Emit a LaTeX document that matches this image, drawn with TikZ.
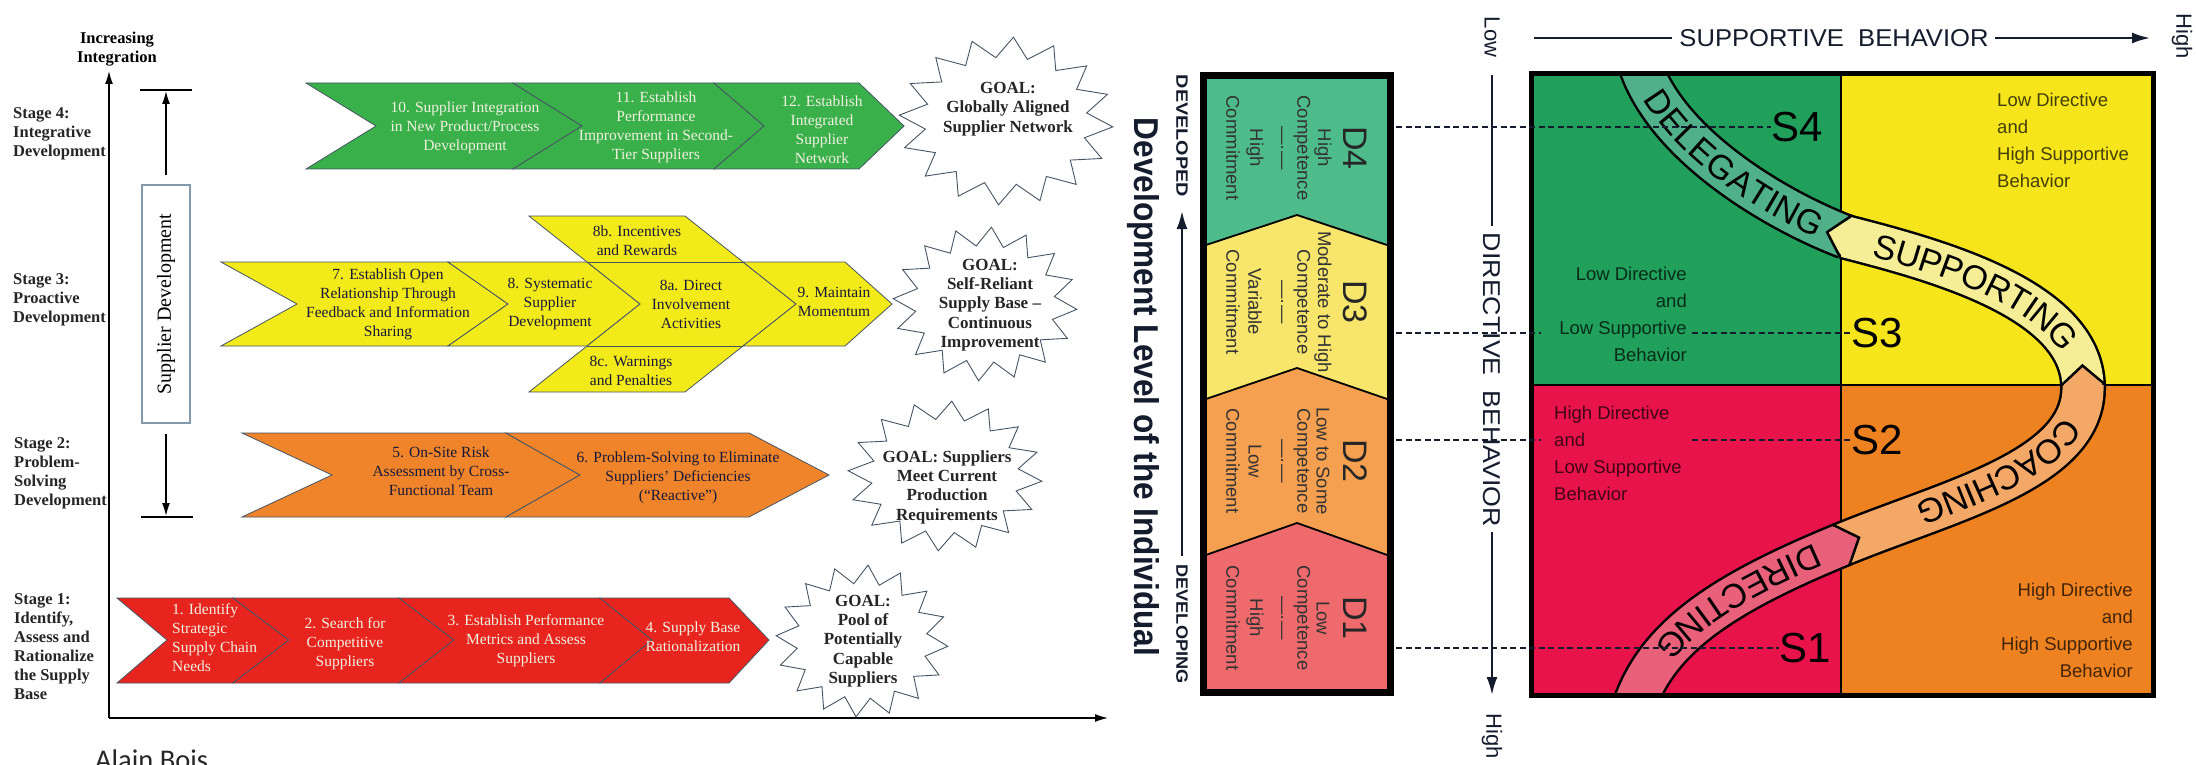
\documentclass[tikz,border=0pt]{standalone}
\usepackage{fontspec}
\usepackage{graphicx}
\setmainfont{Liberation Serif}
\newfontfamily\arialf{Liberation Sans}
\newfontfamily\calibf{Carlito}
\usetikzlibrary{arrows.meta,decorations.text,decorations.markings}
\newcommand\fsz[2]{\fontsize{#1}{#2}\selectfont}
\newcommand\bandfont{\arialf\fsz{34}{34}}
\definecolor{cgreen}{RGB}{58,176,74}
\definecolor{cyellow}{RGB}{243,234,26}
\definecolor{corange}{RGB}{240,132,42}
\definecolor{cred}{RGB}{232,36,30}
\definecolor{edgec}{RGB}{70,85,100}
\definecolor{boxc}{RGB}{130,155,175}
\definecolor{dkt}{RGB}{25,25,55}
\definecolor{lgt}{RGB}{240,240,225}
\definecolor{dfour}{RGB}{77,187,138}
\definecolor{dthree}{RGB}{247,230,107}
\definecolor{dtwo}{RGB}{245,160,80}
\definecolor{done}{RGB}{238,106,108}
\definecolor{qtl}{RGB}{32,160,90}
\definecolor{qtr}{RGB}{246,229,27}
\definecolor{qbl}{RGB}{232,19,75}
\definecolor{qbr}{RGB}{238,130,33}
\definecolor{bdel}{RGB}{79,176,138}
\definecolor{bsup}{RGB}{246,238,150}
\definecolor{bcoa}{RGB}{244,168,104}
\definecolor{bdir}{RGB}{232,96,122}
\definecolor{axc}{RGB}{20,28,45}
\newcommand\goalstar[4]{%
  \draw[draw=edgec, line width=0.9pt, fill=white]
    plot[samples=33, domain=0:32, variable=\k]
    ({#1+#3*(1-0.24*mod(round(\k),2))*cos(\k*11.25+4)},
     {#2+#4*(1-0.24*mod(round(\k),2))*sin(\k*11.25+4)}) -- cycle;}
\newcommand\dtext[5]{%
  \node[dbig] (#1big) at (1355,#2) {#3};
  \node[dsm] (#1a) at (1323,#2) {#4};
  \node[dsm] (#1b) at (1302,#2) {Competence};
  \node[dsm] (#1c) at (1280,#2) {—·—};
  \node[dsm] (#1d) at (1255,#2) {#5};
  \node[dsm] (#1e) at (1233,#2) {Commitment};}
\begin{document}
\begin{tikzpicture}[x=1pt, y=-1pt,
  chev/.style={draw=edgec, line width=0.8pt},
  ctxt/.style={font=\fsz{15.5}{19}, align=center, inner sep=0pt},
  stagelbl/.style={font=\bfseries\fsz{16.5}{19}, align=left, anchor=west, inner sep=0pt, text=black!85},
  goaltxt/.style={font=\bfseries\fsz{17}{19.3}, align=center, inner sep=0pt, text=black!85},
  axarrow/.style={line width=1.3pt, -{Latex[length=13pt,width=8pt]}},
  dsm/.style={font=\arialf\fsz{18.5}{18.5}, rotate=-90, inner sep=0pt, text=black!80},
  dbig/.style={font=\arialf\fsz{34}{34}, rotate=-90, inner sep=0pt, text=black!85},
  quadtxt/.style={font=\arialf\fsz{18.5}{27}, inner sep=0pt, text=black, text opacity=0.72},
  slabel/.style={font=\arialf\fsz{42}{42}, inner sep=0pt, anchor=west},
  sline/.style={line width=2.4pt, dash pattern=on 6pt off 3.5pt, draw=axc},
  band/.style={line width=2.5pt, double distance=41pt},
  bigarrow/.style={line width=2.2pt, draw=axc, -{Latex[length=18pt,width=11pt]}},
  axlbl/.style={inner sep=0pt, text=axc, font=\arialf\fsz{22}{22}}
]
\useasboundingbox (0,0) rectangle (2196,765);
\fill[white] (0,0) rectangle (2196,765);

% ================= LEFT PANEL =================
\coordinate (org) at (109,718);
\coordinate (ytop) at (109,71);
\coordinate (xend) at (1108,718);
\draw[axarrow] (org) -- (ytop);
\draw[axarrow] (org) -- (xend);
\node[font=\bfseries\fsz{16.5}{19}, align=center, inner sep=0pt] (incint) at (117,49) {Increasing\\Integration};

\node[stagelbl] (st4) at (13,134) {Stage 4:\\Integrative\\Development};
\node[stagelbl] (st3) at (13,300) {Stage 3:\\Proactive\\Development};
\node[stagelbl] (st2) at (14,473) {Stage 2:\\Problem-\\Solving\\Development};
\node[stagelbl] (st1) at (14,647) {Stage 1:\\Identify,\\Assess and\\Rationalize\\the Supply\\Base};

% supplier development bracket
\node[draw=boxc, line width=1.2pt, minimum width=48pt, minimum height=238pt, inner sep=0pt] (sdbox) at (166,304) {};
\node[rotate=90, font=\fsz{20}{20}, inner sep=0pt] (sdtxt) at (sdbox.center) {Supplier Development};
\coordinate (bt1) at (140,90); \coordinate (bt2) at (192,90);
\coordinate (bb1) at (141,517); \coordinate (bb2) at (193,517);
\draw[line width=1.2pt] (bt1) -- (bt2);
\draw[line width=1.2pt] (bb1) -- (bb2);
\coordinate (uptip) at (166,91); \coordinate (upbase) at (166,175);
\coordinate (dntip) at (166,516); \coordinate (dnbase) at (166,434);
\draw[axarrow] (upbase) -- (uptip);
\draw[axarrow] (dnbase) -- (dntip);

% Stage 4 row (green)
\draw[chev, fill=cgreen] (306,83) -- (513,83) -- (582,126) -- (513,169) -- (306,169) -- (376,126) -- cycle;
\draw[chev, fill=cgreen] (513,83) -- (714,83) -- (764,126) -- (714,169) -- (513,169) -- (582,126) -- cycle;
\draw[chev, fill=cgreen] (714,83) -- (859,83) -- (904,126) -- (859,169) -- (714,169) -- (764,126) -- cycle;
\node[ctxt, text=lgt] (t10) at (465,128) {10. Supplier Integration\\in New Product/Process\\Development};
\node[ctxt, text=lgt] (t11) at (656,127) {11. Establish\\Performance\\Improvement in Second-\\Tier Suppliers};
\node[ctxt, text=lgt] (t12) at (822,130) {12. Establish\\Integrated\\Supplier\\Network};

% Stage 3 row (yellow)
\draw[chev, fill=cyellow] (221,262) -- (448,262) -- (508,304) -- (448,346) -- (221,346) -- (297,304) -- cycle;
\draw[chev, fill=cyellow] (448,262) -- (587,262) -- (640,304) -- (587,346) -- (448,346) -- (508,304) -- cycle;
\draw[chev, fill=cyellow] (529,216) -- (685,216) -- (796,304) -- (685,392) -- (529,392) -- (640,304) -- cycle;
\draw[chev] (587,262) -- (743,262);
\draw[chev] (587,346) -- (743,346);
\draw[chev, fill=cyellow] (743,262) -- (845,262) -- (892,304) -- (845,346) -- (743,346) -- (796,304) -- cycle;
\node[ctxt, text=dkt] (t7) at (388,304) {7. Establish Open\\Relationship Through\\Feedback and Information\\Sharing};
\node[ctxt, text=dkt] (t8) at (550,304) {8. Systematic\\Supplier\\Development};
\node[ctxt, text=dkt] (t8a) at (691,304) {8a. Direct\\Involvement\\Activities};
\node[ctxt, text=dkt] (t8b) at (637,241) {8b. Incentives\\and Rewards};
\node[ctxt, text=dkt] (t8c) at (631,371) {8c. Warnings\\and Penalties};
\node[ctxt, text=dkt] (t9) at (834,302) {9. Maintain\\Momentum};

% Stage 2 row (orange)
\draw[chev, fill=corange] (242,433) -- (506,433) -- (580,475) -- (506,517) -- (242,517) -- (332,475) -- cycle;
\draw[chev, fill=corange] (506,433) -- (749,433) -- (829,475) -- (749,517) -- (506,517) -- (580,475) -- cycle;
\node[ctxt, text=dkt] (t5) at (441,471) {5. On-Site Risk\\Assessment by Cross-\\Functional Team};
\node[ctxt, text=dkt] (t6) at (678,478) {6. Problem-Solving to Eliminate\\Suppliers’ Deficiencies\\(“Reactive”)};

% Stage 1 row (red)
\draw[chev, fill=cred] (117,598) -- (233,598) -- (289,640) -- (233,683) -- (117,683) -- (167,640) -- cycle;
\draw[chev, fill=cred] (233,598) -- (399,598) -- (454,640) -- (399,683) -- (233,683) -- (289,640) -- cycle;
\draw[chev, fill=cred] (399,598) -- (600,598) -- (652,640) -- (600,683) -- (399,683) -- (454,640) -- cycle;
\draw[chev, fill=cred] (600,598) -- (729,598) -- (769,640) -- (729,683) -- (600,683) -- (652,640) -- cycle;
\node[ctxt, text=lgt, align=left, anchor=west] (t1) at (172,638) {1. Identify\\Strategic\\Supply Chain\\Needs};
\node[ctxt, text=lgt] (t2) at (345,644) {2. Search for\\Competitive\\Suppliers};
\node[ctxt, text=lgt] (t3) at (526,641) {3. Establish Performance\\Metrics and Assess\\Suppliers};
\node[ctxt, text=lgt] (t4) at (693,637) {4. Supply Base\\Rationalization};

% goals
\goalstar{1006}{121}{107}{84}
\goalstar{985}{304}{92}{77}
\goalstar{945}{476}{97}{75}
\goalstar{862}{641}{86}{76}
\node[goaltxt] (g4) at (1008,109) {GOAL:\\Globally Aligned\\Supplier Network};
\node[goaltxt] (g3) at (990,305) {GOAL:\\Self-Reliant\\Supply Base –\\Continuous\\Improvement};
\node[goaltxt] (g2) at (947,487) {GOAL: Suppliers\\Meet Current\\Production\\Requirements};
\node[goaltxt] (g1) at (863,641) {GOAL:\\Pool of\\Potentially\\Capable\\Suppliers};

\node[anchor=base west, font=\calibf\fsz{28.5}{30}, inner sep=0pt, text=black!85] (author) at (95,769) {Alain Bois};

% ================= MIDDLE: development level =================
\node[rotate=-90, inner sep=0pt, text=axc] (devlvl) at (1143,387) {\resizebox{538pt}{25pt}{\arialf\bfseries Development Level of the Individual}};
\node[rotate=-90, inner sep=0pt, text=axc] (dved) at (1182,136) {\resizebox{122pt}{11.5pt}{\arialf\bfseries DEVELOPED}};
\node[rotate=-90, inner sep=0pt, text=axc] (dving) at (1182,624) {\resizebox{119pt}{11.5pt}{\arialf\bfseries DEVELOPING}};
\coordinate (dvb) at (1182,556); \coordinate (dvt) at (1182,211);
\draw[bigarrow] (dvb) -- (dvt);

% D box
\fill[dfour] (1203,76) -- (1390,76) -- (1390,246) -- (1297,215) -- (1203,246) -- cycle;
\fill[dthree] (1203,246) -- (1297,215) -- (1390,246) -- (1390,400) -- (1297,368) -- (1203,400) -- cycle;
\fill[dtwo] (1203,400) -- (1297,368) -- (1390,400) -- (1390,556) -- (1297,523) -- (1203,556) -- cycle;
\fill[done] (1203,556) -- (1297,523) -- (1390,556) -- (1390,692) -- (1203,692) -- cycle;
\draw[line width=1.8pt] (1203,246) -- (1297,215) -- (1390,246);
\draw[line width=1.8pt] (1203,400) -- (1297,368) -- (1390,400);
\draw[line width=1.8pt] (1203,556) -- (1297,523) -- (1390,556);
\draw[line width=7pt] (1203,76) rectangle (1390,692);
\dtext{dF}{148}{D4}{High}{High}
\dtext{dT}{302}{D3}{Moderate to High}{Variable}
\dtext{dS}{461}{D2}{Low to Some}{Low}
\dtext{dO}{618}{D1}{Low}{High}

% ================= RIGHT PANEL =================
\fill[qtl] (1531,74) rectangle (1841,385);
\fill[qtr] (1841,74) rectangle (2153,385);
\fill[qbl] (1531,385) rectangle (1841,695);
\fill[qbr] (1841,385) rectangle (2153,695);
\draw[line width=2pt] (1841,74) -- (1841,695);
\draw[line width=2pt] (1531,385) -- (2153,385);

\begin{scope}
\clip (1533,76) rectangle (2151,693);
\coordinate (p4) at (1636,50);
\coordinate (p3) at (1846,237);
\coordinate (p2) at (2083,385);
\coordinate (p1) at (1841,545);
\coordinate (p0) at (1630,720);
% DELEGATING
\draw[band, double=bdel] (p4) .. controls (1655,140) and (1775,210) .. (p3);
\path[decorate, decoration={text along path, text={|\bandfont|DELEGATING}, text align={left indent=46pt}, raise=-12pt}] (p4) .. controls (1655,140) and (1775,210) .. (p3);
% SUPPORTING
\draw[band, double=bsup] (p3) .. controls (1940,261) and (2080,300) .. (p2);
\path[decorate, decoration={markings, mark=at position 0.5pt with {\fill[bsup] (1,-20.5) -- (-20,0) -- (1,20.5) -- cycle; \draw[line width=2.5pt] (0,-22.5) -- (-20,0) -- (0,22.5);}}] (p3) .. controls (1940,261) and (2080,300) .. (p2);
\path[decorate, decoration={text along path, text={|\bandfont|SUPPORTING}, text align={left indent=30pt}, raise=-12pt}] (p3) .. controls (1940,261) and (2080,300) .. (p2);
% COACHING
\draw[band, double=bcoa] (p2) .. controls (2086,470) and (1950,500) .. (p1);
\path[decorate, decoration={markings, mark=at position 0.5pt with {\fill[bcoa] (1,-20.5) -- (-20,0) -- (1,20.5) -- cycle; \draw[line width=2.5pt] (0,-22.5) -- (-20,0) -- (0,22.5);}}] (p2) .. controls (2086,470) and (1950,500) .. (p1);
\path[decorate, decoration={text along path, text={|\bandfont|COACHING}, text align={left indent=40pt}, raise=-12pt}] (p2) .. controls (2086,470) and (1950,500) .. (p1);
% DIRECTING
\draw[band, double=bdir] (p1) .. controls (1720,595) and (1650,640) .. (p0);
\path[decorate, decoration={markings, mark=at position 0.5pt with {\fill[bdir] (1,-20.5) -- (-20,0) -- (1,20.5) -- cycle; \draw[line width=2.5pt] (0,-22.5) -- (-20,0) -- (0,22.5);}}] (p1) .. controls (1720,595) and (1650,640) .. (p0);
\path[decorate, decoration={text along path, text={|\bandfont|DIRECTING}, text align={left indent=24pt}, raise=-12pt}] (p1) .. controls (1720,595) and (1650,640) .. (p0);
\end{scope}
\draw[line width=5pt] (1531,74) rectangle (2153,695);

% quadrant texts
\node[quadtxt, align=left, anchor=west] (qTR) at (1997,140) {Low Directive\\and\\High Supportive\\Behavior};
\node[quadtxt, align=right, anchor=east] (qTL) at (1687,314) {Low Directive\\and\\Low Supportive\\Behavior};
\node[quadtxt, align=left, anchor=west] (qBL) at (1554,453) {High Directive\\and\\Low Supportive\\Behavior};
\node[quadtxt, align=right, anchor=east] (qBR) at (2133,630) {High Directive\\and\\High Supportive\\Behavior};

% S labels and dashed lines
\node[slabel] (S4) at (1771,127) {S4};
\node[slabel] (S3) at (1851,333) {S3};
\node[slabel] (S2) at (1851,440) {S2};
\node[slabel] (S1) at (1779,648) {S1};
\coordinate (s4a) at (1396,127);
\coordinate (s3a) at (1396,333); \coordinate (s3b) at (1541,333); \coordinate (s3c) at (1692,333);
\coordinate (s2a) at (1396,440); \coordinate (s2b) at (1541,440); \coordinate (s2c) at (1692,440);
\coordinate (s1a) at (1396,648);
\draw[sline] (s4a) -- (S4.west);
\draw[sline] (s3a) -- (s3b); \draw[sline] (s3c) -- (S3.west);
\draw[sline] (s2a) -- (s2b); \draw[sline] (s2c) -- (S2.west);
\draw[sline] (s1a) -- (S1.west);

% axes labels
\node[inner sep=0pt, text=axc] (supb) at (1834,38) {\resizebox{309pt}{17pt}{\arialf SUPPORTIVE\ \ BEHAVIOR}};
\coordinate (hl0) at (1534,38); \coordinate (hl1) at (1672,38);
\coordinate (hl2) at (1995,38); \coordinate (htip) at (2150,38);
\draw[line width=2.2pt, draw=axc] (hl0) -- (hl1);
\draw[bigarrow] (hl2) -- (htip);
\node[axlbl, rotate=-90] (lowt) at (1492,37) {Low};
\node[axlbl, rotate=-90] (hight) at (2182,36) {High};
\node[axlbl, rotate=-90] (highb) at (1492,736) {High};
\node[inner sep=0pt, text=axc, rotate=-90] (dirb) at (1492,380) {\resizebox{294pt}{17pt}{\arialf DIRECTIVE\ \ BEHAVIOR}};
\coordinate (vl0) at (1492,75); \coordinate (vl1) at (1492,226);
\coordinate (vl2) at (1492,532); \coordinate (vtip) at (1492,695);
\draw[line width=2.2pt, draw=axc] (vl0) -- (vl1);
\draw[bigarrow] (vl2) -- (vtip);
\end{tikzpicture}
\end{document}
